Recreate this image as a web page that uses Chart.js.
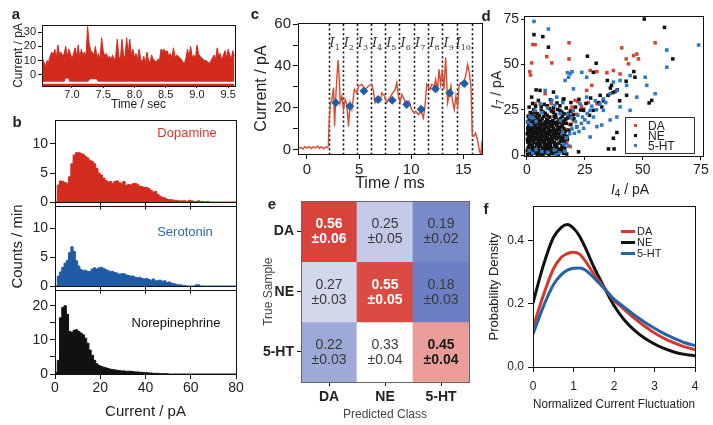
<!DOCTYPE html>
<html lang="en">
<head>
<meta charset="UTF-8" />
<title>Single-molecule neurotransmitter panels</title>
<style>
  body {
    margin: 0;
    width: 713px;
    height: 425px;
    overflow: hidden;
    position: relative;
    background: #fff;
    color: #222;
    font-family: 'Liberation Sans', Arial, sans-serif;
  }
  canvas { position: absolute; }
  .t { position: absolute; transform: translate(-50%, -50%); white-space: nowrap; line-height: 1; }
  .rot { transform: translate(-50%, -50%) rotate(-90deg); }
  .letter { font-weight: bold; font-size: 15px; }
  .box { position: absolute; border: 1.5px solid #333; background: #fff; }
  .row { position: absolute; font-size: 12px; line-height: 1; white-space: nowrap; }
  .sq { position: absolute; width: 3px; height: 3px; }
  .ln { position: absolute; height: 3px; width: 14px; }
  sub { font-size: 10px; vertical-align: -3px; line-height: 0; }
</style>
</head>
<body>
  <canvas id="ca" width="245" height="100" style="left:0;top:15px"></canvas>
  <canvas id="cb1" width="245" height="103" style="left:0;top:110px"></canvas>
  <canvas id="cb2" width="245" height="101" style="left:0;top:196px"></canvas>
  <canvas id="cb3" width="245" height="145" style="left:0;top:280px"></canvas>
  <canvas id="cc" width="240" height="190" style="left:250px;top:10px"></canvas>
  <canvas id="cd" width="233" height="200" style="left:480px;top:5px"></canvas>
  <canvas id="ce" width="240" height="235" style="left:240px;top:190px"></canvas>
  <canvas id="cf" width="233" height="230" style="left:480px;top:195px"></canvas>

  <div class="t letter" style="left:16px;top:13px">a</div>
  <div class="t letter" style="left:17px;top:121px">b</div>
  <div class="t letter" style="left:255px;top:13px">c</div>
  <div class="t letter" style="left:486px;top:15px">d</div>
  <div class="t letter" style="left:272px;top:203px">e</div>
  <div class="t letter" style="left:486px;top:208px">f</div>

  <div class="t" style="left:187px;top:132px;font-size:13px;color:#d9362b">Dopamine</div>
  <div class="t" style="left:185px;top:231px;font-size:13px;color:#2d6ca5">Serotonin</div>
  <div class="t" style="left:176px;top:322px;font-size:13px;color:#111">Norepinephrine</div>

  <div class="t rot" style="left:496px;top:90px;font-size:14px"><i>I</i><sub>7</sub> / pA</div>
  <div class="t" style="left:630px;top:189px;font-size:14px"><i>I</i><sub>4</sub> / pA</div>
  <div class="box" style="left:625px;top:117px;width:68px;height:35px"></div>
  <div class="sq" style="left:634px;top:124px;background:#d6452f"></div>
  <div class="row" style="left:648px;top:120px">DA</div>
  <div class="sq" style="left:634px;top:134px;background:#111"></div>
  <div class="row" style="left:648px;top:130px">NE</div>
  <div class="sq" style="left:634px;top:144px;background:#2f78c4"></div>
  <div class="row" style="left:648px;top:140px">5-HT</div>

  <div class="ln" style="left:621px;top:230px;background:#d33a2c"></div>
  <div class="row" style="left:637px;top:226px;font-size:11px">DA</div>
  <div class="ln" style="left:621px;top:241px;background:#111"></div>
  <div class="row" style="left:637px;top:237px;font-size:11px">NE</div>
  <div class="ln" style="left:621px;top:252px;background:#2563a8"></div>
  <div class="row" style="left:637px;top:248px;font-size:11px">5-HT</div>

  <script src="https://cdn.jsdelivr.net/npm/chart.js"></script>
  <script>
    // ---- panel a: current trace (pA), sampled every 25 ms from 6.525 s
    const aStart = 6.525;
    const aStep = 0.025;
    const aCurrent = [12,9,6,10,9,13,16,14,18,12, 21,14,16,13,15,20,13,18,15,11,
      15,19,13,21,12,18,14,16,13,34, 22,17,16,14,20,12,15,11,26,17,
      13,15,12,13,11,14,10,13,25,13, 11,25,14,12,26,15,25,14,18,12,
      15,11,18,11,9,13,8,16,10,9, 14,11,10,9,11,10,18,17,18,16,
      17,13,15,12,19,12,14,13,12,11, 9,8,12,18,13,20,12,14,11,21,
      15,13,12,11,10,10,9,8,10,12, 14,11,19,13,15,10,14,17,12,18,
      14,11,17,13];
    // thin white gap near the bottom of the trace [time, pA]
    const aGap = [[6.52,-4.9],[6.88,-4.9],[6.9,-2.6],[6.94,-2.6],[6.96,-4.9],[7.26,-4.9],
      [7.29,-3],[7.39,-3],[7.42,-4.9],[9.61,-4.9]];
    const aTicksX = [7.0, 7.5, 8.0, 8.5, 9.0, 9.5];
    const aTicksY = [0, 10, 20, 30];

    // ---- panel b: histograms, 1 pA bins from 0 to 80 pA (counts / min)
    const binEdges = Array.from({ length: 81 }, (_, i) => i);
    const dopCounts = [0.2,3.0,3.7,3.6,3.4,3.3,4.4,6.6,8.1,8.5, 8.5,8.4,8.2,7.9,7.6,7.2,7.0,6.6,5.8,5.0,
      4.7,4.2,3.8,3.5,3.6,3.3,3.6,3.7,3.4,3.3, 3.6,2.9,3.1,3.0,3.2,3.3,3.1,2.8,2.7,2.6,
      2.6,2.4,2.1,1.8,1.9,1.4,1.1,0.9,0.8,0.6, 0.5,0.5,0.4,0.4,0.3,0.3,0.3,0.3,0.2,0.4,
      0.3,0.2,0.2,0.3,0.2,0.2,0.1,0.2,0.1,0.1, 0.1,0.1,0.1,0.1,0.1,0.1,0.1,0.1,0.1,0.1];
    const serCounts = [0.1,1.8,2.5,3.3,4.0,4.5,5.8,6.8,6.0,4.4, 3.5,2.9,2.7,2.8,2.6,2.6,3.0,3.2,3.0,3.2,
      3.3,3.1,2.9,2.7,2.6,2.6,2.4,2.3,2.1,2.2, 2.2,2.0,1.9,1.8,1.8,1.6,1.5,1.6,1.4,1.3,
      1.4,1.2,1.1,1.3,1.0,1.0,1.1,0.9,1.0,0.7, 0.8,0.6,0.5,0.4,0.3,0.3,0.2,0.2,0.1,0.1,
      0.1,0.1,0.3,0.3,0.1,0.1,0.1,0.1,0.1,0.1, 0.1,0.1,0.1,0.1,0.1,0.1,0.1,0.1,0.1,0.1];
    const neCounts = [0.5,4.0,16.5,19.5,20.0,17.5,12.5,12.2,12.8,13.0, 12.5,12.0,11.5,10.5,9.0,7.0,5.5,4.0,3.0,2.5,
      2.2,2.0,1.8,1.6,1.4,1.3,1.2,1.1,1.0,0.9, 0.9,0.8,0.8,0.8,0.7,0.6,0.6,0.5,0.5,0.4,
      0.4,0.3,0.3,0.2,0.2,0.2,0.1,0.1,0.1,0.1, 0,0,0,0,0,0,0,0,0,0,
      0,0,0,0,0,0,0,0,0,0, 0,0,0,0,0,0,0,0,0,0];
    const bTicksX = [0, 20, 40, 60, 80];

    // ---- panel c: one translocation event [ms, pA]
    const cTrace = [[-0.85,0.5],[-0.6,1.2],[-0.4,0.4],[-0.2,1.5],[0,0.8],[0.2,1.6],[0.4,0.6],[0.6,1.4],
      [0.8,0.9],[1.0,1.8],[1.2,0.7],[1.4,1.5],[1.6,0.5],[1.8,1.3],[2.0,1.0],
      [2.05,2],[2.14,14.4],[2.26,22.4],[2.39,24],[2.55,29.6],[2.65,11.2],[2.77,25.6],[2.90,36.8],
      [2.99,42.8],[3.09,35.2],[3.19,22.4],[3.35,25.6],[3.51,19.2],[3.67,24],[3.83,21.6],[3.99,11.2],
      [4.15,22.4],[4.31,19.2],[4.56,28.8],[4.79,27.2],[4.95,30.4],[5.27,31.2],[5.59,28.8],[5.90,30.4],
      [6.22,31.2],[6.38,28],[6.54,22.4],[6.80,24],[7.02,23.2],[7.18,27.2],[7.44,25.6],[7.66,22.4],
      [7.82,24],[8.14,26.4],[8.46,28.8],[8.62,32],[8.78,25.6],[8.94,22.4],[9.10,26.4],[9.35,24],
      [9.58,20.8],[9.80,23.2],[10.05,19.2],[10.28,17.6],[10.44,18.4],[10.69,16.8],[10.95,18.4],
      [11.17,15.2],[11.33,20.8],[11.49,31.2],[11.81,28.8],[11.97,31.2],[12.23,30.4],[12.35,33.6],
      [12.54,28.8],[12.67,38.4],[12.83,31.2],[12.99,38.4],[13.15,28.8],[13.31,44],[13.50,22.4],
      [13.63,25.6],[13.82,30.4],[13.95,24],[14.14,19.2],[14.30,25.6],[14.46,20.8],[14.59,30.4],
      [14.75,32],[15.00,31.2],[15.23,35.2],[15.42,40.8],[15.58,36.8],[15.74,30.4],[15.87,7.2],
      [16.02,6.4],[16.18,8],[16.37,4.8],[16.53,0],[16.69,-2.4],[16.8,4]];
    const cutTimes = [2.07, 3.45, 4.78, 6.15, 7.5, 8.87, 10.27, 11.65, 13.0, 14.4, 15.8];
    const cMeans = [22.5, 20.8, 28, 24, 23.7, 21.6, 19.4, 29.1, 27.1, 31.6];
    const cTicksX = [0, 5, 10, 15];
    const cTicksY = [0, 10, 20, 30, 40, 50, 60];

    // ---- panel d: I4 vs I7 scatter [pA, pA]
    const daPoints = [[2.6,61],[3.6,61],[2.1,50.9],[1.3,46.1],[1.6,44.2],[8.6,54.4],[10.8,50.9],[18.2,62],
      [18.2,53.1],[27.3,46.7],[30.2,46.1],[34.5,45.5],[37.3,46.7],[40.9,59.2],[42.8,53.1],[46,54.9],
      [47.4,55.8],[48.1,53.1],[43.8,50.4],[55.3,62],[40.2,44.8],[28,38.5],[25.8,35.7],[20.8,30.2],
      [18.7,24.7],[16.5,19.4],[14.3,10.2],[17.2,6.5],[18.7,4.7],[11.5,24.7],[7.9,33.9],[3.6,28.4],
      [2.9,19.4],[48.1,16.6],[30.2,28.4],
      [2,6],[4.5,9.5],[6,13],[8,6.5],[9.5,12],[11,9],[12.5,13.5],[14,15.5],[15.5,18],[13,17],[17,14],
      [18.5,17],[20,19],[21.5,22.5],[19.5,26.5],[22,29.5],[23.5,27],[16,8],[15,4],[10,3],[5,1.5],
      [3,15],[6,19],[8.5,22],[12,20.5],[24.5,25.5],[26.5,29],[10.5,28.5]];
    const nePoints = [[50.6,75.1],[59.3,70.5],[3.1,66.5],[6.9,65.4],[9.3,59.6],[26.1,54.6],[62.9,53.1],
      [46.1,46.1],[29.9,50.7],[28.7,45.7],[42.8,40.8],[46.6,43],[34.7,41.2],[36,37],[38,35],[35,33],
      [37,34.5],[39,36],[36.5,38.5],[53.8,30.2],[52.7,28.8],[35.2,3.4],[37.6,3.4],[4,36],[5.7,35.7],
      [2.1,32],[11.5,34.8],[15.7,30.8],[24.4,24.7],[28.7,24.7],[32.3,26.6],[31.6,33],[44.5,18.4],
      [37.3,9.3],[21.5,15.7],[22.3,1.8],[38.8,12.5],[40,30],[43,33],[31,29],[27,22],[33,30],
      [0.3,0.5],[1.2,1.8],[2.1,0.4],[2.8,2.2],[3.6,1.1],[4.5,0.3],[5.2,2.6],[6.1,1.2],[7,0.5],[7.8,2.4],
      [8.7,1],[9.6,0.3],[10.5,2.1],[11.3,0.8],[12.4,1.6],[13.5,0.4],[14.6,2.3],[15.8,1],[17.2,0.6],
      [0.6,4.1],[1.5,3.4],[2.4,5.2],[3.3,4],[4.2,5.8],[5,3.6],[5.9,4.9],[6.8,3.3],[7.6,5.5],[8.5,4.2],
      [9.4,3.1],[10.2,5],[11.1,3.8],[12,5.6],[13,4.4],[14.1,3.2],[15.2,5.1],[16.4,3.9],
      [0.4,7.2],[1.3,6.4],[2.2,8.3],[3.1,6.9],[4,8.8],[4.9,7.4],[5.8,6.2],[6.7,8],[7.5,6.8],[8.4,8.7],
      [9.3,7.1],[10.1,6.3],[11,8.4],[11.9,7],[12.9,8.9],[13.9,6.6],[15,8.1],[16.2,7.3],[17.5,8.6],
      [0.7,10.3],[1.6,9.5],[2.5,11.4],[3.4,10],[4.3,11.8],[5.2,9.7],[6.1,11.1],[7,10.2],[7.9,11.9],
      [8.8,9.8],[9.7,11.3],[10.6,10.1],[11.5,12],[12.5,10.6],[13.6,11.7],[14.8,9.9],[16.1,11.2],[17.3,10.4],
      [0.5,13.6],[1.4,12.8],[2.3,14.5],[3.2,13.1],[4.1,14.9],[5,12.5],[5.9,14.2],[6.8,13.4],[7.7,15],
      [8.6,12.7],[9.5,14.3],[10.4,13.2],[11.4,14.8],[12.4,13.5],[13.5,15.1],[14.7,13],[16,14.6],[18.2,13.8],
      [0.8,16.4],[1.7,15.6],[2.8,17.3],[3.9,16],[5,17.6],[6.1,15.8],[7.2,17.1],[8.3,16.3],[9.4,17.8],
      [10.5,15.9],[11.6,17.4],[12.8,16.5],[14,17.9],[15.3,16.2],[17,17.5],[19,16.8],
      [1,19.5],[2.2,21],[3.5,19.2],[4.8,20.6],[6,18.8],[7.3,21.3],[8.6,19.6],[9.9,21],[11.2,19],
      [12.5,20.8],[13.9,19.4],[15.3,21.5],[16.8,19.9],[18.5,21.2],[20.3,20],
      [1.5,23.5],[3,25],[4.6,22.8],[6.3,24.6],[8,23.1],[9.8,25.7],[11.5,23.6],[13.3,25.2],[15.1,23.8],
      [17,26],[19,24.2],[21,26.5],[23.2,24.9],
      [2.5,28.5],[5,30.2],[7.5,28],[10.2,30.5],[13,28.8],[16,31],[19,29],[22.5,30.8],[25.5,28.5],[27.5,31.5],
      [0.2,2.5],[1,5.5],[1.8,0.8],[2.6,3.6],[3.4,2.8],[4.3,1.8],[5,5],[5.8,0.6],[6.6,2.2],[7.4,4.2],
      [8.2,1.6],[9,2.9],[9.9,4.6],[10.8,1.2],[11.7,2.6],[12.6,4],[13.7,2],[15,3.2],[16.5,1.2],
      [0.3,8.6],[1.1,7.9],[1.9,9.9],[2.8,8],[3.6,9.2],[4.5,6.3],[5.5,8.3],[6.4,9.6],[7.2,7.5],[8,9.4],
      [8.9,5.7],[9.8,8.8],[10.7,7.2],[11.6,9.5],[12.6,6.2],[13.6,9.6],[14.6,7.5],[15.7,9.4],
      [0.2,11.8],[1,11.2],[1.9,12.9],[2.9,12.1],[3.8,12.9],[4.7,10.6],[5.6,12.7],[6.5,11.6],[7.4,13],
      [8.3,11],[9.1,12.6],[10,11.8],[10.9,13.5],[11.9,11.6],[12.9,12.6],[14,14.1],[15.2,12.2],[16.6,13],
      [0.4,15],[1.1,14.2],[2,16],[3,15.3],[4,17.8],[4.6,13.9],[5.5,15.6],[6.5,16.8],[7.4,14.4],[8,17.8],
      [8.9,15.2],[10,16.8],[11,16.1],[12,17.9],[13.1,14.3],[14.4,15.5],[15.8,17.8],
      [0.3,18.2],[1.5,17.8],[2.7,19],[3.9,21.5],[5.3,19],[6.6,20.2],[7.9,18.3],[9.1,19.8],[10.4,18.4],
      [11.8,21.4],[13.1,18.2],[14.6,20.2],[16,18.8],[17.6,20.5],
      [0.6,21.5],[2.3,22.8],[3.8,23.6],[5.4,21.8],[7,23.8],[8.8,21.9],[10.6,24.3],[12.4,22.4],[14.2,24.6],
      [16.1,22.8],[18,23],[20,22.2],[1,26.5],[3.8,27],[6.2,26.6],[8.8,27.2],[11.5,26.2],[14.3,27.2]];
    const htPoints = [[3.1,73.8],[9.3,69.6],[74,60.8],[60.3,58],[60.3,48.5],[55.3,33.9],[51.7,38.5],[51,43],
      [47.4,32],[44.5,43.9],[43,38.5],[40.2,41.2],[37.3,40.3],[38.8,35.7],[35.9,33.9],[33,31],[40.2,26.6],
      [44.5,24.7],[38.8,21],[33,24.7],[27.3,10],[30.2,15.7],[35.9,19.4],[18.7,45],[17.5,45.5],[19.5,46],
      [16.5,41.2],[18,43],[25.8,43],[23.7,45.7],[20.1,36.6],[12.9,32],[7.9,35.7],[10.8,30.2],[5.7,28.4],
      [3.6,24.7],[1.4,21],[14.3,22.9],[22.9,28.4],[25.8,32],[28.7,21],[32.3,16.6],[25,19.4],[27.3,24.7],
      [12.6,0.2],
      [1,2.5],[2.6,1],[4,3],[6.5,2],[9,1.5],[11.8,2.8],[14,1.2],[16.5,2],[0.5,18],[1.8,16.8],[2.5,20.5],
      [4,18.5],[15.5,12.5],[17,9.5],[18.5,11.8],[19.5,14.5],[20.5,12],[21.5,15.5],[22.5,13],[23.5,17.5],
      [24.5,14.8],[21,18.5],[19,20.5],[17.5,22.5],[20,24.5],[22,22],[24,21],[26,23],[26.5,18],[28,27],
      [30,25],[29.5,30],[31.5,28],[34,29],[16,6],[18,5],[14.5,19],
      [6.5,23.5],[9,26],[12,27.5],[15.5,29]];
    const dTicks = [0, 25, 50, 75];

    // ---- panel e: confusion matrix (rows: true sample, cols: predicted class)
    const classes = ['DA', 'NE', '5-HT'];
    const confMean = [[0.56, 0.25, 0.19], [0.27, 0.55, 0.18], [0.22, 0.33, 0.45]];
    const confErr = [[0.06, 0.05, 0.02], [0.03, 0.05, 0.03], [0.03, 0.04, 0.04]];

    // ---- panel f: probability density vs normalized current fluctuation
    const fX = [0, 0.25, 0.5, 0.7, 0.85, 1, 1.15, 1.3, 1.5, 1.75, 2, 2.25, 2.5, 2.75, 3, 3.25, 3.5, 3.75, 4];
    const fDA = [0.125,0.225,0.31,0.348,0.36,0.364,0.358,0.335,0.295,0.253,0.212,0.183,0.155,0.13,0.108,0.09,0.076,0.064,0.055];
    const fNE = [0.203,0.32,0.41,0.443,0.452,0.44,0.415,0.376,0.318,0.255,0.195,0.15,0.117,0.092,0.073,0.058,0.047,0.04,0.036];
    const fHT = [0.104,0.19,0.26,0.293,0.307,0.313,0.314,0.307,0.283,0.25,0.215,0.19,0.165,0.143,0.123,0.105,0.09,0.077,0.068];

    // ------------------------------------------------------------------
    const sans = '"Liberation Sans", Arial, sans-serif';
    Chart.defaults.font.family = sans;
    Chart.defaults.color = '#222';
    Chart.defaults.animation = false;
    Chart.defaults.responsive = false;
    Chart.defaults.plugins.legend.display = false;
    Chart.defaults.plugins.tooltip.enabled = false;

    // box around every plot area
    Chart.register({
      id: 'box',
      afterDraw(chart, args, opts) {
        const { ctx, chartArea: a } = chart;
        ctx.save();
        ctx.strokeStyle = opts.color || '#111';
        ctx.lineWidth = 1;
        ctx.strokeRect(Math.round(a.left) + 0.5, Math.round(a.top) + 0.5,
          Math.round(a.right - a.left), Math.round(a.bottom - a.top));
        ctx.restore();
      }
    });

    function axis(o) {
      const ticks = {
        display: o.labels !== false,
        font: { size: o.fs || 13, family: o.family || sans, weight: o.bold ? 'bold' : 'normal' },
        color: '#222', padding: o.pad ?? 2, autoSkip: false, maxRotation: 0
      };
      if (o.cb) ticks.callback = o.cb;
      const horiz = o.pos === 'bottom';
      const s = {
        type: o.type || 'linear',
        position: o.pos,
        min: o.min, max: o.max, reverse: !!o.reverse,
        offset: o.type === 'category',
        grid: { drawOnChartArea: false, drawTicks: true, tickLength: o.tl ?? 5, color: '#111', offset: false },
        border: { display: false },
        ticks,
        afterFit: sc => { if (sc.isHorizontal()) sc.height = o.size; else sc.width = o.size; },
        title: o.title ? { display: true, text: o.title, color: o.tcolor || '#222',
          font: { size: o.tfs || 14, family: o.family || sans },
          padding: horiz ? { top: 0, bottom: o.tpad ?? 4 } : { top: o.tpad ?? 4, bottom: 0 } }
          : { display: false }
      };
      if (o.ticks) s.afterBuildTicks = sc => { sc.ticks = o.ticks.map(v => ({ value: v })); };
      return s;
    }

    // panel a
    new Chart(document.getElementById('ca'), {
      type: 'line',
      data: { datasets: [
        { data: aGap.map(([x, y]) => ({ x, y })), borderWidth: 0, pointRadius: 0,
          backgroundColor: '#fff', fill: { value: -6.3 } },
        { data: aCurrent.map((y, i) => ({ x: aStart + i * aStep, y })), borderColor: '#d42a1c',
          backgroundColor: '#d42a1c', borderWidth: 1, pointRadius: 0, fill: 'start' }
      ]},
      options: {
        layout: { padding: { top: 10, right: 10 } },
        scales: {
          x: axis({ pos: 'bottom', min: 6.52, max: 9.61, ticks: aTicksX, size: 29, fs: 11, tl: 2, pad: 0,
            cb: v => v.toFixed(1), title: 'Time / sec', tfs: 12, tpad: 3 }),
          y: axis({ pos: 'left', min: -7.8, max: 35, ticks: aTicksY, size: 42, fs: 11, tl: 4, pad: 2,
            title: 'Current / pA', tfs: 12, tpad: 11 })
        }
      }
    });

    // panel b: each bin is a step from its left edge to the next edge
    function hist(id, counts, color, yMax, yTicks, yLabels, bottom) {
      const steps = binEdges.map((x, i) => ({ x, y: counts[Math.min(i, counts.length - 1)] }));
      return new Chart(document.getElementById(id), {
        type: 'line',
        data: { datasets: [{ data: steps, stepped: 'before', borderColor: color, backgroundColor: color,
          borderWidth: 1, borderJoinStyle: 'miter', pointRadius: 0, fill: 'origin' }] },
        options: {
          layout: { padding: { top: 9, right: 9 } },
          scales: {
            x: axis({ pos: 'bottom', min: 0, max: 80, ticks: bTicksX, size: bottom ? 51 : 8, fs: 14,
              tl: bottom ? 5 : 7, pad: 1, labels: bottom, title: bottom ? 'Current / pA' : '', tfs: 15, tpad: 4 }),
            y: axis({ pos: 'left', min: 0, max: yMax, ticks: yTicks, size: 55, fs: 14, tl: 5, pad: 2,
              cb: v => (yLabels.includes(v) ? v : ''),
              title: id === 'cb2' ? 'Counts / min' : '', tfs: 15, tpad: 9 })
          }
        }
      });
    }
    hist('cb1', dopCounts, '#d42b1f', 14, [0, 5, 10], [0, 5, 10], false);
    hist('cb2', serCounts, '#1f5aa5', 13.7, [0, 5, 10], [0, 5, 10], false);
    hist('cb3', neCounts, '#111', 24.5, [0, 5, 10, 15, 20], [0, 10, 20], true);

    // panel c
    const cutsPlugin = {
      id: 'cuts',
      beforeDatasetsDraw(chart) {
        const { ctx, chartArea: a, scales: { x } } = chart;
        ctx.save();
        ctx.strokeStyle = '#111';
        ctx.lineWidth = 1.6;
        ctx.setLineDash([2, 2.6]);
        cutTimes.forEach(t => {
          const px = Math.round(x.getPixelForValue(t)) + 0.5;
          ctx.beginPath(); ctx.moveTo(px, a.top + 1); ctx.lineTo(px, a.bottom); ctx.stroke();
        });
        ctx.setLineDash([]);
        ctx.fillStyle = '#333';
        ctx.textBaseline = 'alphabetic';
        for (let i = 0; i < cutTimes.length - 1; i++) {
          const cx = x.getPixelForValue((cutTimes[i] + cutTimes[i + 1]) / 2) - 1;
          const sub = String(i + 1);
          ctx.font = 'italic 13px "DejaVu Serif", serif';
          const wI = ctx.measureText('I').width;
          ctx.font = '8px "DejaVu Serif", serif';
          const wS = ctx.measureText(sub).width;
          const x0 = cx - (wI + wS) / 2;
          ctx.font = 'italic 13px "DejaVu Serif", serif';
          ctx.fillText('I', x0, a.top + 24);
          ctx.font = '8px "DejaVu Serif", serif';
          ctx.fillText(sub, x0 + wI, a.top + 27);
        }
        ctx.restore();
      }
    };
    new Chart(document.getElementById('cc'), {
      type: 'line',
      data: { datasets: [
        { data: cMeans.map((y, i) => ({ x: (cutTimes[i] + cutTimes[i + 1]) / 2, y })), showLine: false,
          pointStyle: 'rectRot', pointRadius: 4.5, backgroundColor: '#1f5fa8', borderWidth: 0 },
        { data: cTrace.map(([x, y]) => ({ x, y })), borderColor: '#dc4a2e', borderWidth: 1.4, pointRadius: 0 }
      ]},
      options: {
        layout: { padding: { top: 13, right: 8 } },
        scales: {
          x: axis({ pos: 'bottom', min: -0.86, max: 16.8, ticks: cTicksX, size: 46, fs: 15, tl: 5, pad: 2,
            title: 'Time / ms', tfs: 16, tpad: 7 }),
          y: axis({ pos: 'left', min: -2, max: 60.5, ticks: cTicksY, size: 48, fs: 15, tl: 5, pad: 2,
            cb: v => (v % 20 === 0 ? v : ''), title: 'Current / pA', tfs: 16, tpad: 2 })
        }
      },
      plugins: [cutsPlugin]
    });

    // panel d (dataset 0 is drawn on top)
    const pts = arr => arr.map(([x, y]) => ({ x, y }));
    const dot = { pointStyle: 'rect', pointRadius: 2.5, borderWidth: 0 };
    new Chart(document.getElementById('cd'), {
      type: 'scatter',
      data: { datasets: [
        { label: '5-HT', data: pts(htPoints), backgroundColor: '#2f78c4', ...dot },
        { label: 'NE', data: pts(nePoints), backgroundColor: '#111', ...dot },
        { label: 'DA', data: pts(daPoints), backgroundColor: '#d6452f', ...dot }
      ]},
      options: {
        layout: { padding: { top: 11, right: 10 } },
        scales: {
          x: axis({ pos: 'bottom', min: -1.2, max: 75.9, ticks: dTicks, size: 49, fs: 14, tl: 4, pad: 2 }),
          y: axis({ pos: 'left', min: -0.5, max: 76.8, ticks: dTicks, size: 44, fs: 14, tl: 3, pad: 2 })
        }
      }
    });

    // panel e
    const heatStops = [[0.18, [107, 127, 194]], [0.25, [195, 201, 230]], [0.33, [255, 255, 255]], [0.56, [216, 67, 60]]];
    function heatColor(v) {
      let i = 0;
      while (i < heatStops.length - 2 && v > heatStops[i + 1][0]) i++;
      const [v0, c0] = heatStops[i], [v1, c1] = heatStops[i + 1];
      const t = Math.max(0, Math.min(1, (v - v0) / (v1 - v0)));
      return 'rgb(' + c0.map((c, k) => Math.round(c + (c1[k] - c) * t)).join(',') + ')';
    }
    const cellText = {
      id: 'cellText',
      afterDatasetsDraw(chart) {
        const { ctx } = chart;
        ctx.save();
        ctx.textAlign = 'center';
        ctx.textBaseline = 'middle';
        chart.data.datasets.forEach((ds, r) => {
          chart.getDatasetMeta(r).data.forEach((bar, c) => {
            const v = confMean[r][c];
            const cy = (bar.y + bar.base) / 2;
            ctx.fillStyle = v > 0.5 ? '#fff' : (r === c ? '#1a1a1a' : '#3a3a3a');
            ctx.font = (r === c ? 'bold ' : '') + '14px ' + sans;
            ctx.fillText(v.toFixed(2), bar.x, cy - 7);
            ctx.fillText('\u00b1' + confErr[r][c].toFixed(2), bar.x, cy + 8);
          });
        });
        ctx.restore();
      }
    };
    new Chart(document.getElementById('ce'), {
      type: 'bar',
      data: {
        labels: classes,
        datasets: confMean.map((row, r) => ({
          data: row.map(() => [r, r + 1]),
          backgroundColor: row.map(heatColor),
          borderWidth: 0, barPercentage: 1, categoryPercentage: 1, grouped: false
        }))
      },
      options: {
        layout: { padding: { top: 10, right: 11 } },
        plugins: { box: { color: '#666' } },
        scales: {
          x: axis({ type: 'category', pos: 'bottom', size: 43, fs: 14, bold: true, tl: 4, pad: 3,
            title: 'Predicted Class', tfs: 12, tpad: 3, tcolor: '#444' }),
          y: axis({ pos: 'left', min: 0, max: 3, reverse: true, ticks: [0.5, 1.5, 2.5], size: 61, fs: 14,
            bold: true, tl: 4, pad: 3, cb: v => classes[Math.floor(v)], title: 'True Sample', tfs: 12, tpad: 21, tcolor: '#444' })
        }
      },
      plugins: [cellText]
    });

    // panel f
    const curve = (ys, color) => ({ data: ys.map((y, i) => ({ x: fX[i], y })), borderColor: color,
      borderWidth: 3, pointRadius: 0, cubicInterpolationMode: 'monotone' });
    new Chart(document.getElementById('cf'), {
      type: 'line',
      data: { datasets: [curve(fHT, '#2563a8'), curve(fDA, '#d33a2c'), curve(fNE, '#111')] },
      options: {
        layout: { padding: { top: 9, right: 18 } },
        scales: {
          x: axis({ pos: 'bottom', min: 0, max: 4, ticks: [0, 1, 2, 3, 4], size: 58, fs: 12, tl: 5, pad: 7,
            title: 'Normalized Current Fluctuation', tfs: 12.5, tpad: 13 }),
          y: axis({ pos: 'left', min: 0, max: 0.51, ticks: [0, 0.2, 0.4], size: 53, fs: 12, tl: 5, pad: 4,
            cb: v => v.toFixed(1), title: 'Probability Density', tfs: 13, tpad: 7 })
        }
      }
    });
  </script>
</body>
</html>
